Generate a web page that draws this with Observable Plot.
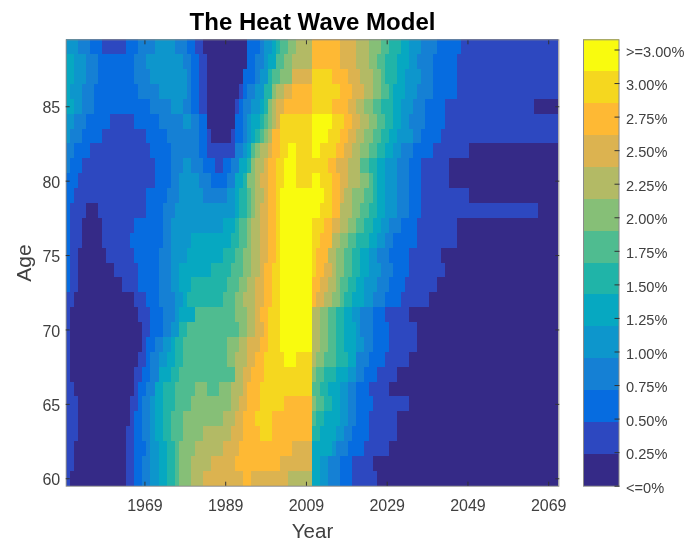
<!DOCTYPE html>
<html><head><meta charset="utf-8">
<style>
html,body{margin:0;padding:0;background:#fff}
#c{position:relative;width:686px;height:541px;overflow:hidden;filter:blur(.45px)}
#c svg{position:absolute;left:0;top:0;background:transparent}
</style>
<script src="https://cdn.jsdelivr.net/npm/d3@7"></script>
<script src="https://cdn.jsdelivr.net/npm/@observablehq/plot@0.6"></script>
</head><body><div id="c"></div>
<script>
const firstYear = 1950;
const xTicks = [1969,1989,2009,2029,2049,2069];
const yTicks = [60,65,70,75,80,85];
const bandColors = ["#352a87","#2d48c0","#066ce0","#1580d4","#0d96cc","#06a8c1","#20b4a8","#4fbc90","#86bf77","#b3ba65","#dcb350","#feb934","#f5d71f","#f9fb0e"];
const legendTicks = [0,.25,.5,.75,1,1.25,1.5,1.75,2,2.25,2.5,2.75,3,3.25];
const legendLabels = ["<=0%","0.25%","0.50%","0.75%","1.00%","1.25%","1.50%","1.75%","2.00%","2.25%","2.50%","2.75%","3.00%",">=3.00%"];
const legendTop = 3.326;

// each row: band, end column (columns counted from firstYear), band, end column, ...
const age89 = [4,3,3,6,2,9,1,15,2,18,3,22,4,27,3,30,2,32,1,34,0,45,2,48,3,49,4,51,5,52,6,53,7,55,8,57,9,61,11,68,10,72,9,75,8,78,7,80,6,83,5,85,4,88,3,92,2,98,1,122];
const age88 = [5,2,4,5,3,8,2,17,3,20,4,29,3,31,2,33,1,35,0,45,2,47,3,49,4,50,5,52,7,54,8,56,9,61,11,68,10,72,9,75,8,77,7,79,6,82,5,85,4,87,3,91,2,97,1,122];
const age87 = [5,2,4,5,3,8,2,17,3,21,4,30,3,31,2,33,1,35,0,44,2,47,3,48,4,50,6,51,7,53,8,56,10,61,12,66,11,70,10,73,9,76,8,78,7,79,6,82,5,84,4,88,3,91,2,97,1,122];
const age86 = [5,1,4,4,3,7,2,18,3,23,4,30,3,31,2,33,1,35,0,43,1,44,2,45,3,47,4,49,6,51,8,52,9,54,10,56,11,61,12,68,11,71,10,74,9,76,8,78,7,80,6,81,5,84,4,87,3,91,2,97,1,122];
const age85 = [5,2,4,4,3,7,2,21,3,26,4,29,3,31,2,33,1,35,0,42,1,43,2,44,3,46,4,48,5,49,6,50,8,51,9,52,10,54,11,61,12,66,11,70,10,72,9,74,8,76,7,78,6,81,5,83,4,86,3,89,2,94,1,116,0,122];
const age84 = [4,2,3,5,2,11,1,17,2,23,3,29,4,31,3,33,2,35,0,42,2,44,3,45,4,46,5,48,6,49,7,50,8,51,9,52,10,53,12,61,13,66,12,69,11,71,10,73,9,75,8,77,7,79,6,81,5,83,4,85,3,89,2,94,1,122];
const age83 = [4,1,3,4,2,9,1,20,2,25,3,33,2,35,1,36,0,41,1,42,2,44,3,45,4,46,5,47,6,48,7,49,8,50,9,51,11,53,12,61,13,65,12,68,11,70,10,72,9,74,8,76,7,78,6,80,5,82,4,86,3,88,2,93,1,122];
const age82 = [3,2,2,6,1,21,2,26,3,33,2,35,1,42,3,44,4,45,5,46,7,47,8,48,9,50,10,51,11,53,12,55,13,57,12,61,13,63,12,67,11,69,10,71,9,73,8,75,7,77,6,79,5,81,4,83,3,86,2,91,1,100,0,122];
const age81 = [3,1,2,4,1,22,2,26,3,29,4,31,3,34,2,37,1,39,2,41,3,43,5,45,6,46,8,47,9,49,10,50,11,52,12,54,13,57,12,61,12,65,11,67,10,70,9,73,7,75,6,77,5,79,4,82,3,85,2,88,1,95,0,122];
const age80 = [2,3,1,22,2,26,3,28,4,33,3,36,2,40,3,42,5,44,6,45,8,47,9,48,10,50,11,52,12,54,13,57,12,61,13,63,12,66,11,68,10,70,9,73,8,75,7,76,6,77,5,79,4,82,3,85,2,88,1,95,0,122];
const age79 = [2,2,1,20,2,25,3,28,4,34,3,40,4,42,5,43,6,45,7,46,8,47,9,49,10,50,11,52,12,53,13,61,13,64,12,66,11,68,10,69,9,71,8,74,7,76,6,77,5,79,4,82,3,85,2,88,1,100,0,122];
const age78 = [2,1,1,5,0,8,1,20,2,24,3,27,4,42,5,43,6,45,7,46,8,47,9,48,10,50,11,52,12,53,13,61,13,63,12,66,11,68,9,71,8,73,7,75,6,77,5,79,4,82,3,85,2,88,1,117,0,122];
const age77 = [2,1,1,4,0,9,1,17,2,24,3,26,4,39,5,42,6,43,7,45,8,46,9,48,10,50,11,52,12,53,13,61,12,64,11,66,10,68,9,70,8,72,7,74,6,76,5,78,4,80,3,83,2,87,1,97,0,122];
const age76 = [2,1,1,4,0,9,1,16,2,24,3,26,4,31,5,41,6,43,7,45,8,46,9,48,10,50,11,52,12,53,13,61,12,63,11,66,9,68,8,70,7,72,6,75,5,77,4,79,3,81,2,87,1,97,0,122];
const age75 = [2,1,1,3,0,10,1,17,2,23,3,26,4,30,5,39,6,42,7,44,8,46,9,48,10,50,11,52,12,53,13,61,12,62,11,65,9,67,8,69,7,71,6,73,5,75,4,77,3,80,2,85,1,93,0,122];
const age74 = [2,1,1,3,0,12,1,18,2,23,3,26,4,28,5,36,6,41,7,44,8,46,9,48,10,49,11,51,12,53,13,61,12,62,11,64,10,66,9,67,8,69,7,71,6,73,5,75,4,78,3,81,2,85,1,94,0,122];
const age73 = [2,1,1,3,0,14,1,18,2,23,3,26,4,28,5,31,6,40,7,43,8,45,9,47,10,49,11,51,12,53,13,61,11,63,10,65,9,67,8,68,7,70,6,72,5,74,4,77,3,80,2,84,1,92,0,122];
const age72 = [1,2,0,17,1,20,2,23,3,27,4,29,5,30,6,39,7,42,8,44,9,47,10,49,11,51,12,53,13,61,11,62,10,64,9,66,8,68,7,69,6,71,5,74,4,76,3,79,2,83,1,90,0,122];
const age71 = [1,1,0,18,1,21,2,24,3,27,4,28,5,32,7,42,8,45,9,47,10,48,11,50,12,53,13,61,9,63,8,65,7,67,6,69,5,71,4,73,3,76,2,79,1,85,0,122];
const age70 = [1,1,0,19,1,21,2,24,3,26,4,28,6,30,7,43,8,45,9,47,10,49,11,50,12,53,13,61,9,63,8,65,7,67,6,69,5,72,4,73,3,76,2,80,1,87,0,122];
const age69 = [1,1,0,19,1,20,2,22,3,24,4,26,5,27,6,29,7,40,8,43,9,45,10,48,11,50,12,53,13,61,9,63,8,65,7,67,6,69,5,72,4,74,3,76,2,80,1,87,0,122];
const age68 = [1,1,0,18,1,20,2,21,3,23,4,25,5,27,6,29,7,40,8,42,9,45,10,47,11,49,12,54,13,57,12,61,9,62,8,64,7,67,6,70,5,72,3,75,2,79,1,85,0,122];
const age67 = [1,1,0,17,1,19,2,21,3,23,5,26,6,28,7,42,9,44,10,46,11,49,12,61,8,62,7,64,6,67,5,70,4,72,3,74,2,77,1,82,0,122];
const age66 = [1,2,0,17,1,18,2,20,3,22,5,24,6,27,7,32,8,35,7,38,8,41,9,44,10,45,11,48,12,61,7,63,6,65,5,68,4,70,3,72,2,75,1,80,0,122];
const age65 = [1,3,0,16,1,18,2,19,3,21,4,22,5,24,6,27,7,31,8,41,9,43,10,45,11,48,12,54,11,61,8,62,7,64,6,66,5,68,4,70,3,72,2,76,1,85,0,122];
const age64 = [1,3,0,16,1,17,2,19,3,21,4,22,5,24,6,26,7,29,8,39,9,42,10,44,11,47,12,51,11,61,7,62,6,64,5,68,4,70,3,72,2,75,1,82,0,122];
const age63 = [1,3,0,15,1,17,2,19,3,21,4,22,5,24,6,26,7,29,8,34,9,41,10,44,11,48,12,51,11,61,6,63,5,67,4,69,3,71,2,75,1,82,0,122];
const age62 = [1,2,0,15,1,17,2,20,3,21,4,23,5,25,6,27,7,28,8,32,9,39,10,43,11,56,10,61,5,66,4,67,3,70,2,74,1,80,0,122];
const age61 = [1,2,0,15,1,17,2,19,3,21,4,23,5,25,6,27,7,28,8,31,9,36,10,42,11,53,10,61,5,63,4,65,3,68,2,71,1,76,0,122];
const age60 = [1,1,0,15,1,17,2,19,3,21,4,23,5,25,6,27,7,28,8,31,9,34,10,44,11,46,10,55,9,61,5,63,4,65,3,68,2,71,1,77,0,122];

const rows = [[60,age60],[61,age61],[62,age62],[63,age63],[64,age64],[65,age65],[66,age66],[67,age67],[68,age68],[69,age69],[70,age70],[71,age71],[72,age72],[73,age73],[74,age74],[75,age75],[76,age76],[77,age77],[78,age78],[79,age79],[80,age80],[81,age81],[82,age82],[83,age83],[84,age84],[85,age85],[86,age86],[87,age87],[88,age88],[89,age89]];

const runs = [];
for (const [age, r] of rows) {
  let start = 0;
  for (let i = 0; i < r.length; i += 2) {
    runs.push({age, band: r[i], from: firstYear - .5 + start, to: firstYear - .5 + r[i+1]});
    start = r[i+1];
  }
}
const legendRows = bandColors.map((color, i) => ({color, lo: i * legendTop / 14, hi: (i + 1) * legendTop / 14}));

const font = '"Liberation Sans", Arial, sans-serif';
const ink = "#404040";
const W = 686, H = 541;
const blank = () => "";

const main = Plot.plot({
  width: W, height: H,
  marginLeft: 65.7, marginRight: 127.7, marginTop: 39.3, marginBottom: 55.3,
  style: {fontFamily: font, background: "transparent"},
  x: {domain: [firstYear - .5, 2071.5]},
  y: {domain: [59.5, 89.5]},
  color: {type: "ordinal", domain: d3.range(14), range: bandColors},
  marks: [
    Plot.rect(runs, {x1: "from", x2: "to", y1: d => d.age - .5, y2: d => d.age + .5, fill: "band", shapeRendering: "crispEdges"}),
    Plot.frame({stroke: "#8a8a8a", strokeWidth: 1}),
    Plot.axisX({ticks: xTicks, tickFormat: "d", tickSize: -4, tickPadding: 17, fontSize: 16, color: ink, stroke: "#333", label: null}),
    Plot.axisX({anchor: "top", ticks: xTicks, tickFormat: blank, tickSize: -4, stroke: "#333", label: null}),
    Plot.axisY({ticks: yTicks, tickFormat: blank, tickSize: -4, stroke: "#333", label: null}),
    Plot.axisY({ticks: yTicks, tickFormat: "d", tickSize: 0, tickPadding: 6, dy: 1.5, fontSize: 16, color: ink, label: null}),
    Plot.axisY({anchor: "right", ticks: yTicks, tickFormat: blank, tickSize: -4, stroke: "#333", label: null}),
    Plot.text(["The Heat Wave Model"], {frameAnchor: "top", dy: -27, fontSize: 24, fontWeight: "bold", fill: "#000", lineAnchor: "top"}),
    Plot.text(["Year"], {frameAnchor: "bottom", dy: 52, fontSize: 20.5, fill: ink}),
    Plot.text(["Age"], {frameAnchor: "left", dx: -42, rotate: -90, textAnchor: "middle", fontSize: 21, fill: ink})
  ]
});
document.getElementById("c").append(main);

const bar = Plot.plot({
  width: W, height: H,
  marginLeft: 583, marginRight: 67.5, marginTop: 39.3, marginBottom: 55.3,
  style: {fontFamily: font, background: "transparent"},
  x: {domain: [0, 1], axis: null},
  y: {domain: [0, legendTop], axis: null},
  marks: [
    Plot.rect(legendRows, {x1: 0, x2: 1, y1: "lo", y2: "hi", fill: "color", shapeRendering: "crispEdges"}),
    Plot.frame({stroke: "#8a8a8a", strokeWidth: 1}),
    Plot.axisY({anchor: "right", ticks: legendTicks, tickFormat: blank, tickSize: -5, stroke: "#333", label: null}),
    Plot.axisY({anchor: "right", ticks: legendTicks, tickFormat: (d, i) => legendLabels[i], tickSize: 0, tickPadding: 7, dy: 2, fontSize: 14.6, color: ink, label: null})
  ]
});
document.getElementById("c").append(bar);
</script></body></html>
